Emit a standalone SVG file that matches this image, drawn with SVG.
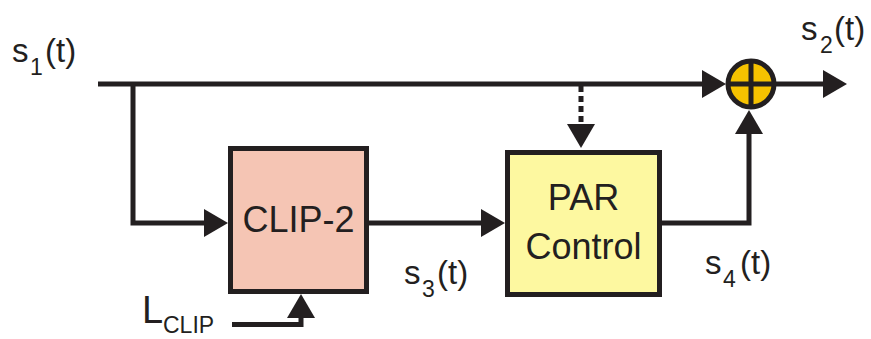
<svg xmlns="http://www.w3.org/2000/svg" width="871" height="339" viewBox="0 0 871 339">
<style>
.ln{fill:none;stroke:#231f20;stroke-width:5}
.box{stroke:#231f20;stroke-width:5}
.t{font-family:"Liberation Sans",Arial,sans-serif;fill:#231f20}
.bt{font-size:36px;text-anchor:middle}
.lb{font-size:33px}
.sb{font-size:23px}
</style>
<defs>
<marker id="ah" viewBox="0 0 24 28" refX="14" refY="14" markerWidth="24" markerHeight="28" markerUnits="userSpaceOnUse" orient="auto">
<path d="M0,0 L24,14 L0,28 Z" fill="#231f20"/>
</marker>
</defs>
<g id="clip2">
<rect class="box" x="230.5" y="148.5" width="136" height="143" fill="#f5c5b4"/>
<text class="t bt" x="298.5" y="232">CLIP-2</text>
</g>
<g id="par">
<rect class="box" x="507.5" y="152.5" width="152" height="142" fill="#fdf8a0"/>
<text class="t bt" x="583.5" y="210">PAR</text>
<text class="t bt" x="583.5" y="259">Control</text>
</g>
<g id="sum">
<circle cx="751" cy="84" r="23" fill="#f6c200" stroke="#231f20" stroke-width="5"/>
<line class="ln" x1="728" y1="84" x2="774" y2="84"/>
<line class="ln" x1="751" y1="61" x2="751" y2="107"/>
</g>
<g id="connectors">
<path class="ln" d="M98,84 H716" marker-end="url(#ah)"/>
<path class="ln" d="M133,84 V223 H218" marker-end="url(#ah)"/>
<path class="ln" d="M369,223 H495" marker-end="url(#ah)"/>
<path class="ln" d="M662,223 H749 V120" marker-end="url(#ah)"/>
<path class="ln" d="M776,84 H837" marker-end="url(#ah)"/>
<path class="ln" d="M232,324.5 H301 V304" marker-end="url(#ah)"/>
<path class="ln" d="M581,86 V138" stroke-dasharray="6,4" marker-end="url(#ah)"/>
</g>
<g id="labels">
<text class="t lb" x="12" y="62">s</text><text class="t sb" x="30" y="75">1</text><text class="t lb" x="45" y="62">(t)</text>
<text class="t lb" x="801" y="40">s</text><text class="t sb" x="820" y="53">2</text><text class="t lb" x="834" y="40">(t)</text>
<text class="t lb" x="404" y="284">s</text><text class="t sb" x="422" y="297">3</text><text class="t lb" x="437" y="284">(t)</text>
<text class="t lb" x="705" y="274">s</text><text class="t sb" x="723" y="287">4</text><text class="t lb" x="740" y="274">(t)</text>
<text class="t" style="font-size:38px" x="142" y="323">L</text><text class="t sb" x="163" y="333">CLIP</text>
</g>
</svg>
